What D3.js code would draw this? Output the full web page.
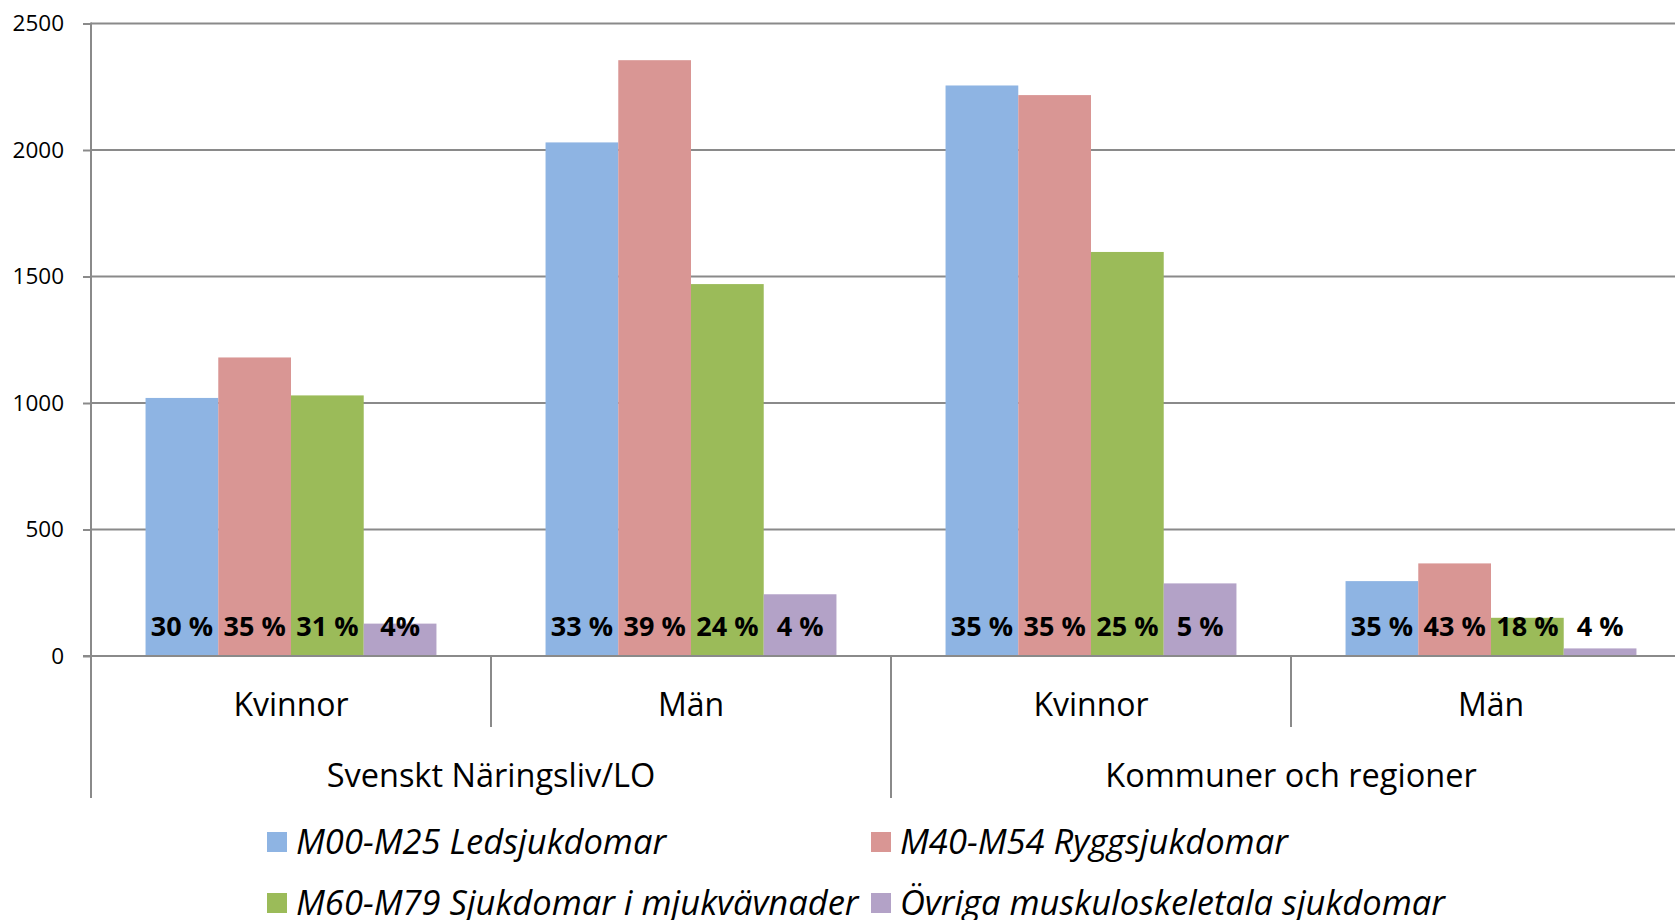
<!DOCTYPE html>
<html>
<head>
<meta charset="utf-8">
<script src="https://cdn.jsdelivr.net/npm/d3@7"></script>
<style>
  html, body { margin: 0; padding: 0; background: #fff; overflow: hidden; }
  svg { display: block; font-family: "Open Sans", "DejaVu Sans", sans-serif; }
</style>
</head>
<body>
<svg id="chart" width="1675" height="920"></svg>
<script>
// ---------- data ----------
const categories = ["Kvinnor", "Män", "Kvinnor", "Män"];
const groups = ["Svenskt Näringsliv/LO", "Kommuner och regioner"];
const seriesNames = [
  "M00-M25 Ledsjukdomar",
  "M40-M54 Ryggsjukdomar",
  "M60-M79 Sjukdomar i mjukvävnader",
  "Övriga muskuloskeletala sjukdomar"
];
const ledValues    = [1020, 2030, 2255, 296];
const ryggValues   = [1180, 2355, 2217, 366];
const mjukValues   = [1030, 1470, 1597, 151];
const ovrigaValues = [128, 244, 287, 30];
const ledLabels    = ["30 %", "33 %", "35 %", "35 %"];
const ryggLabels   = ["35 %", "39 %", "35 %", "43 %"];
const mjukLabels   = ["31 %", "24 %", "25 %", "18 %"];
const ovrigaLabels = ["4%", "4 %", "5 %", "4 %"];
const yTicks = [0, 500, 1000, 1500, 2000, 2500];
const colors = ["#8EB4E3", "#D99694", "#9BBB59", "#B3A2C7"];

const seriesValues = [ledValues, ryggValues, mjukValues, ovrigaValues];
const seriesLabels = [ledLabels, ryggLabels, mjukLabels, ovrigaLabels];

// ---------- layout ----------
const svg = d3.select("#chart");
const plotLeft = 91, plotW = 1600, plotTop = 23.5, plotBottom = 656;
const axisColor = "#8a8a8a";

const x0 = d3.scaleBand().domain(d3.range(categories.length)).range([plotLeft, plotLeft + plotW]).padding(0);
const x1 = d3.scaleBand().domain(d3.range(seriesNames.length)).range([0, x0.bandwidth()]).paddingInner(0).paddingOuter(0.75);
const y = d3.scaleLinear().domain([0, 2500]).range([plotBottom, plotTop]);

// gridlines
svg.append("g").selectAll("line").data(yTicks.filter(d => d > 0)).join("line")
  .attr("x1", plotLeft).attr("x2", 1675)
  .attr("y1", d => y(d)).attr("y2", d => y(d))
  .attr("stroke", axisColor).attr("stroke-width", 2);

// y axis
const yAxis = d3.axisLeft(y).tickValues(yTicks).tickSize(8).tickPadding(19).tickFormat(d3.format("d"));
const yg = svg.append("g").attr("transform", `translate(${plotLeft},0)`).call(yAxis);
yg.select(".domain").remove();
yg.selectAll(".tick line").attr("stroke", axisColor).attr("stroke-width", 2);
yg.selectAll(".tick text").attr("font-size", 22.5).attr("fill", "#000")
  .attr("font-family", "'Open Sans', sans-serif");

// bars
const catG = svg.append("g").selectAll("g").data(d3.range(categories.length)).join("g")
  .attr("transform", i => `translate(${x0(i)},0)`);
catG.selectAll("rect").data(i => seriesValues.map((s, k) => ({k, v: s[i]}))).join("rect")
  .attr("x", d => x1(d.k)).attr("width", x1.bandwidth())
  .attr("y", d => y(d.v)).attr("height", d => y(0) - y(d.v))
  .attr("fill", d => colors[d.k]);

// vertical axis line and zero line
svg.append("line").attr("x1", plotLeft).attr("x2", plotLeft).attr("y1", plotTop - 1).attr("y2", 798)
  .attr("stroke", axisColor).attr("stroke-width", 2);
svg.append("line").attr("x1", plotLeft - 8).attr("x2", 1675).attr("y1", y(0)).attr("y2", y(0))
  .attr("stroke", axisColor).attr("stroke-width", 2);

// percent labels
catG.selectAll("text.pct").data(i => seriesLabels.map((s, k) => ({k, t: s[i]}))).join("text")
  .attr("class", "pct")
  .attr("x", d => x1(d.k) + x1.bandwidth() / 2)
  .attr("y", y(0) - 20)
  .attr("text-anchor", "middle")
  .attr("font-size", 27).attr("font-weight", "bold").attr("fill", "#000")
  .text(d => d.t);

// category separators (inner level: between Kvinnor and Män)
const innerSeps = [1, 3];
svg.append("g").selectAll("line").data(innerSeps).join("line")
  .attr("x1", i => x0(i)).attr("x2", i => x0(i))
  .attr("y1", y(0)).attr("y2", 727)
  .attr("stroke", axisColor).attr("stroke-width", 2);
// outer separators (between groups)
const outerSeps = [2];
svg.append("g").selectAll("line").data(outerSeps).join("line")
  .attr("x1", i => x0(i)).attr("x2", i => x0(i))
  .attr("y1", y(0)).attr("y2", 798)
  .attr("stroke", axisColor).attr("stroke-width", 2);

// category labels
svg.append("g").selectAll("text").data(categories).join("text")
  .attr("x", (d, i) => x0(i) + x0.bandwidth() / 2)
  .attr("y", 716)
  .attr("text-anchor", "middle").attr("font-size", 32).attr("fill", "#000")
  .text(d => d);
// group labels
svg.append("g").selectAll("text").data(groups).join("text")
  .attr("x", (d, i) => x0(i * 2) + x0.bandwidth())
  .attr("y", 787)
  .attr("text-anchor", "middle").attr("font-size", 32.5).attr("fill", "#000")
  .text(d => d);

// legend
const legendCols = [267, 871], legendRows = [842, 903];
const lg = svg.append("g").selectAll("g").data(seriesNames).join("g")
  .attr("transform", (d, i) => `translate(${legendCols[i % 2]},${legendRows[Math.floor(i / 2)]})`);
lg.append("rect").attr("x", 0).attr("y", -10).attr("width", 20).attr("height", 20)
  .attr("fill", (d, i) => colors[i]);
lg.append("text").attr("x", 29).attr("y", 0).attr("dy", "0.35em")
  .attr("font-size", 34.5).attr("font-style", "italic").attr("fill", "#000")
  .text(d => d);
</script>
</body>
</html>
